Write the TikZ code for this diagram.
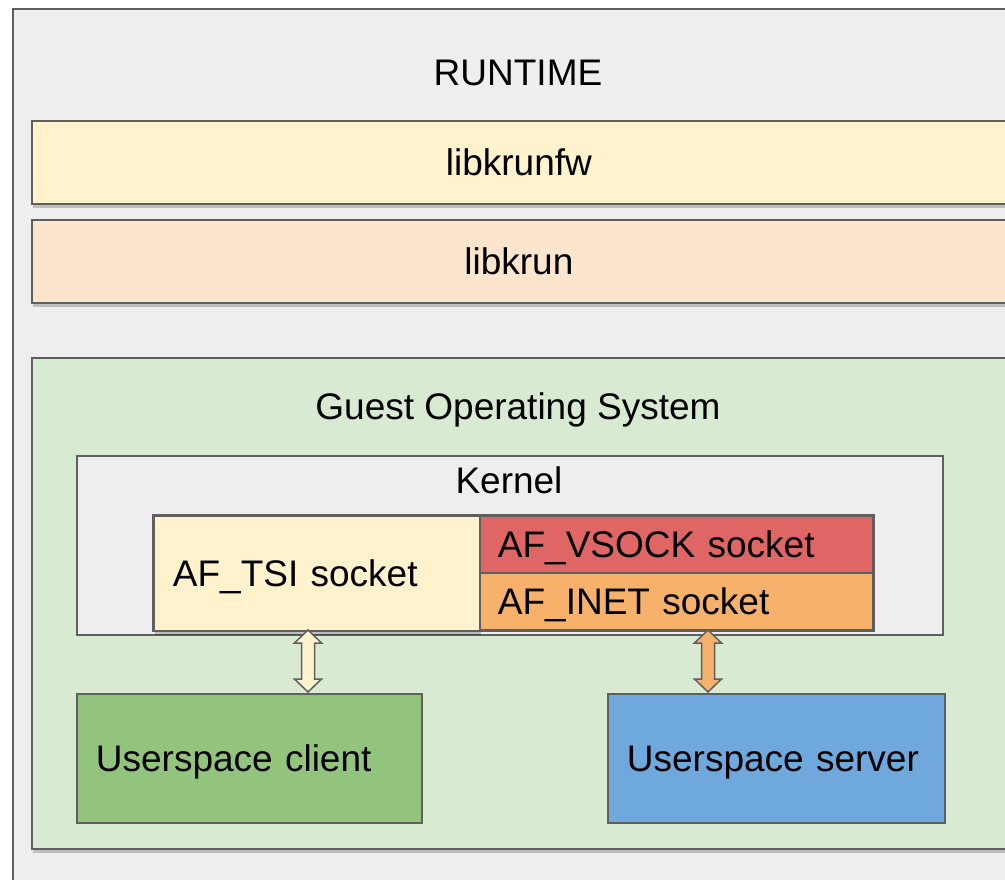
\documentclass[tikz,border=0pt]{standalone}
\usepackage{fontspec}
\setmainfont{Liberation Sans}
\usetikzlibrary{shadows}
\definecolor{bordc}{HTML}{5F5F5F}
\definecolor{bggray}{HTML}{EEEEEE}
\definecolor{fwcol}{HTML}{FFF2CC}
\definecolor{krcol}{HTML}{FCE5CD}
\definecolor{guestcol}{HTML}{D9EAD3}
\definecolor{vsockcol}{HTML}{E06666}
\definecolor{inetcol}{HTML}{F6B26B}
\definecolor{clientcol}{HTML}{93C47D}
\definecolor{servercol}{HTML}{6FA8DC}
\newcommand{\bigtxt}{\fontsize{37}{44}\selectfont}
\tikzset{
  box/.style={draw=bordc, line width=1.8pt, inner ysep=0pt, anchor=north west,
    font=\bigtxt, text height=26.5pt, text depth=0pt},
  shad/.style={drop shadow={shadow xshift=1.5pt, shadow yshift=-4pt, opacity=0.2, fill=black}},
  lbl/.style={inner sep=0pt, font=\bigtxt, anchor=base},
  dblarrow/.style={draw=bordc, line width=1.5pt, line join=miter},
}
\begin{document}
\begin{tikzpicture}[x=1pt,y=-1pt]
\useasboundingbox (0,0) rectangle (1005,880);
\clip (0,0) rectangle (1005,880);
\fill[white] (0,0) rectangle (1005,880);
% outer runtime
\node[box, fill=bggray, minimum width=1010pt, minimum height=890pt] (runtime) at (12,8) {};
\node[lbl] (runtimelbl) at (518,85.5) {RUNTIME};
% libs
\node[box, shad, fill=fwcol, minimum width=974pt, minimum height=83pt] (fw) at (31,120) {libkrunfw};
\node[box, shad, fill=krcol, minimum width=974pt, minimum height=83pt] (kr) at (31,219) {libkrun};
% guest
\node[box, shad, fill=guestcol, minimum width=980pt, minimum height=491pt] (guest) at (31,357) {};
\node[lbl] (guestlbl) at (518,419) {Guest Operating System};
% kernel
\node[box, fill=bggray, minimum width=866pt, minimum height=179pt] (kernel) at (76,455) {};
\node[lbl] (kernellbl) at (509,493) {Kernel};
% sockets
\node[box, shad, fill=fwcol, minimum width=326pt, minimum height=115pt, inner xsep=19pt,
  text width=288pt, align=left] (tsi) at (153,515) {AF\_TSI socket};
\node[box, shad, fill=vsockcol, minimum width=393pt, minimum height=57pt, inner xsep=18pt,
  text width=357pt, align=left] (vsock) at (479,515) {AF\_VSOCK socket};
\node[box, fill=inetcol, minimum width=393pt, minimum height=57pt, inner xsep=18pt,
  text width=357pt, align=left] (inet) at (479,572) {AF\_INET socket};
\draw[bordc, line width=1.8pt] (tsi.north west) rectangle (inet.south east);
% userspace
\node[box, fill=clientcol, minimum width=345pt, minimum height=129pt, inner xsep=19pt,
  text width=307pt, align=left] (client) at (76,693) {Userspace client};
\node[box, fill=servercol, minimum width=337pt, minimum height=129pt, inner xsep=19pt,
  text width=299pt, align=left] (server) at (607,693) {Userspace server};
% arrows
\coordinate (a1t) at (308,630);
\coordinate (a1b) at (308,692);
\coordinate (a2t) at (708,630);
\coordinate (a2b) at (708,692);
\draw[dblarrow, fill=fwcol] (a1t) -- ++(13.5,13) -- ++(-7,0) -- ++(0,36) -- ++(7,0) -- (a1b)
  -- ++(-13.5,-13) -- ++(7,0) -- ++(0,-36) -- ++(-7,0) -- cycle;
\draw[dblarrow, fill=inetcol] (a2t) -- ++(13.5,13) -- ++(-7,0) -- ++(0,36) -- ++(7,0) -- (a2b)
  -- ++(-13.5,-13) -- ++(7,0) -- ++(0,-36) -- ++(-7,0) -- cycle;
\end{tikzpicture}
\end{document}
